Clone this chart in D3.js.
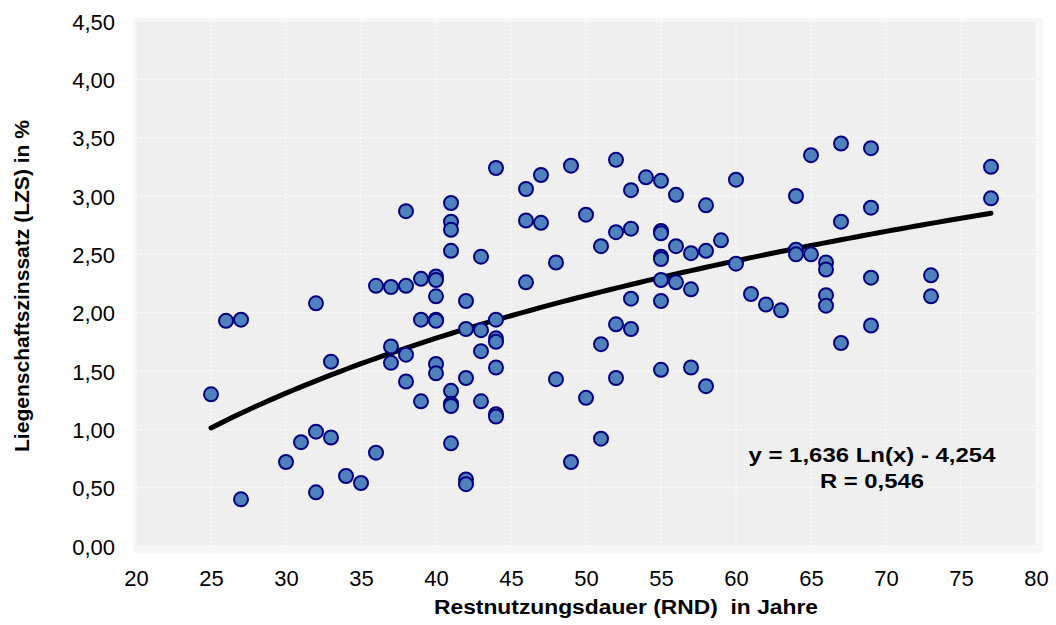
<!DOCTYPE html>
<html><head><meta charset="utf-8">
<script src="https://cdn.jsdelivr.net/npm/d3@7"></script>
<style>body{margin:0;background:#fff}text{font-family:"Liberation Sans",Arial,sans-serif}</style>
</head><body>
<svg id="c" width="1056" height="625"></svg>
<script>
const rnd = [25,26,27,27,30,31,32,32,32,33,33,34,35,36,36,37,37,37,38,38,38,38,39,39,39,
40,40,40,40,40,40,40,41,41,41,41,41,41,41,41,42,42,42,42,42,43,43,43,43,
44,44,44,44,44,44,44,46,46,46,47,47,48,48,49,49,50,50,51,51,51,52,52,52,52,
53,53,53,53,54,55,55,55,55,55,55,55,55,56,56,56,57,57,57,58,58,58,59,60,60,
61,62,63,64,64,64,65,65,66,66,66,66,67,67,67,69,69,69,69,73,73,77,77];
const lzs = [1.30,1.93,1.94,0.40,0.72,0.89,2.08,0.98,0.46,1.58,0.93,0.60,0.54,2.23,0.80,2.22,1.71,1.57,2.87,2.23,1.64,1.41,2.29,1.94,1.24,
2.31,2.28,2.14,1.94,1.93,1.56,1.48,2.94,2.78,2.71,2.53,1.33,1.22,1.20,0.88,2.10,1.86,1.44,0.57,0.53,2.48,1.85,1.67,1.24,
3.24,1.94,1.78,1.75,1.53,1.13,1.11,3.06,2.79,2.26,3.18,2.77,2.43,1.43,3.26,0.72,2.84,1.27,2.57,1.73,0.92,3.31,2.69,1.90,1.44,
3.05,2.72,2.12,1.86,3.16,3.13,2.70,2.68,2.48,2.46,2.28,2.10,1.51,3.01,2.57,2.26,2.51,2.20,1.53,2.92,2.53,1.37,2.62,3.14,2.42,
2.16,2.07,2.02,3.00,2.54,2.50,3.35,2.50,2.43,2.37,2.15,2.06,3.45,2.78,1.74,3.41,2.90,2.30,1.89,2.32,2.14,3.25,2.98];
const xTicks = [20,25,30,35,40,45,50,55,60,65,70,75,80];
const yTicks = [0,0.5,1,1.5,2,2.5,3,3.5,4,4.5];
const trendCoef = [1.636, -4.254];
const trendRange = [25, 77];
const eqLabels = ["y = 1,636 Ln(x) - 4,254", "R = 0,546"];
const xTitle = "Restnutzungsdauer (RND)  in Jahre";
const yTitle = "Liegenschaftszinssatz (LZS) in %";

const svg = d3.select("#c");
const L=136,R=1036,T=21,B=546;
const x = d3.scaleLinear().domain([20,80]).range([L,R]);
const y = d3.scaleLinear().domain([0,4.5]).range([B,T]);
const fmt = d => d.toFixed(2).replace(".",",");

svg.append("rect").attr("x",L-3).attr("y",T-3).attr("width",R-L+10).attr("height",B-T+10).attr("fill","#f7f7f7");
svg.append("rect").attr("x",L).attr("y",T).attr("width",R-L).attr("height",B-T).attr("fill","#efefef");
const g = svg.append("g");
g.selectAll(".vg").data(xTicks).join("line").attr("x1",d=>x(d)).attr("x2",d=>x(d)).attr("y1",T).attr("y2",B)
 .attr("stroke","#fff").attr("stroke-width",1).attr("stroke-dasharray","2,2");
g.selectAll(".hg").data(yTicks).join("line").attr("y1",d=>y(d)).attr("y2",d=>y(d)).attr("x1",L).attr("x2",R)
 .attr("stroke","#fff").attr("stroke-width",1).attr("stroke-dasharray","2,2");

const xa = svg.append("g").attr("transform",`translate(0,${B})`)
 .call(d3.axisBottom(x).tickValues(xTicks).tickSize(0).tickPadding(0).tickFormat(d=>d));
xa.select(".domain").remove();
xa.selectAll("text").attr("font-size",22).attr("fill","#000").attr("y",40).attr("dy",0).style("font-family","'Liberation Sans',Arial");
const ya = svg.append("g").attr("transform",`translate(${L},0)`)
 .call(d3.axisLeft(y).tickValues(yTicks).tickSize(0).tickPadding(0).tickFormat(fmt));
ya.select(".domain").remove();
ya.selectAll("text").attr("font-size",22).attr("fill","#000").attr("x",-21).attr("dy","0.37em").style("font-family","'Liberation Sans',Arial");

// trend line
const tx = d3.range(trendRange[0], trendRange[1]+0.01, 0.5);
const line = d3.line().x(d=>x(d)).y(d=>y(trendCoef[0]*Math.log(d)+trendCoef[1])).curve(d3.curveMonotoneX);
svg.append("path").datum(tx).attr("d",line).attr("fill","none").attr("stroke","#000").attr("stroke-width",5).attr("stroke-linecap","round");

svg.append("g").selectAll("circle").data(rnd.map((v,i)=>[v,lzs[i]])).join("circle")
 .attr("cx",d=>x(d[0])).attr("cy",d=>y(d[1])).attr("r",7)
 .attr("fill","#4F81BD").attr("stroke","#000080").attr("stroke-width",2);

function boldText(txt, cx, by, w, size){
  return svg.append("text").attr("x",cx).attr("y",by).attr("text-anchor","middle").attr("font-size",size)
   .attr("font-weight","bold").attr("textLength",w).attr("lengthAdjust","spacingAndGlyphs").style("white-space","pre").text(txt);
}
boldText(eqLabels[0], 872, 462, 247, 20);
boldText(eqLabels[1], 872, 488, 104, 20);
boldText(xTitle, 626, 614, 384, 20);
svg.append("text").attr("transform","translate(29,286) rotate(-90)").attr("text-anchor","middle").attr("font-size",20)
 .attr("font-weight","bold").attr("textLength",332).attr("lengthAdjust","spacingAndGlyphs").text(yTitle);
</script>
</body></html>
